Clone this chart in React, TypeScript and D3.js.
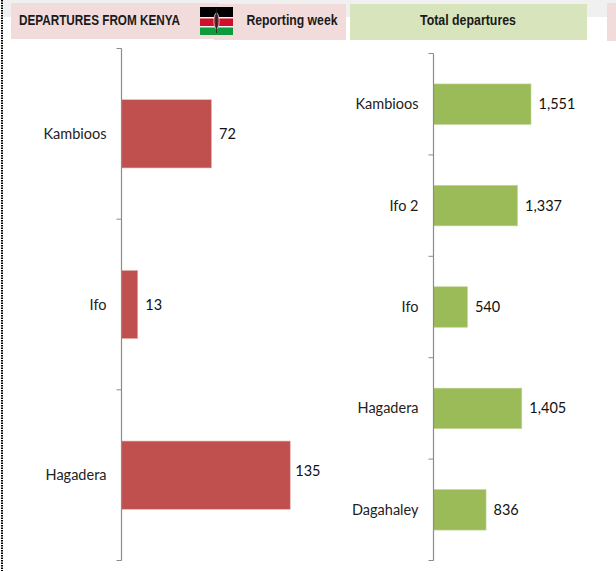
import React from "react";
import * as d3 from "d3";

const redCategories = ["Kambioos", "Ifo", "Hagadera"];
const redValues = [72, 13, 135];
const greenCategories = ["Kambioos", "Ifo 2", "Ifo", "Hagadera", "Dagahaley"];
const greenValues = [1551, 1337, 540, 1405, 836];
const headers = ["DEPARTURES FROM KENYA", "Reporting week", "Total departures"];

const labelFont = "Lato, 'Open Sans', sans-serif";
const headFont = "'Liberation Sans Narrow', 'Liberation Sans', sans-serif";

function Panel({ cats, vals, x0, pxMax, domainMax, top, bottom, fill, stroke, padding, nudge }: any) {
  const x = d3.scaleLinear().domain([0, domainMax]).range([x0, x0 + pxMax]);
  const y = d3.scaleBand<string>().domain(cats).range([top, bottom]).paddingInner(padding).paddingOuter(padding / 2);
  const step = y.step();
  const fmt = d3.format(",");
  const ticks = d3.range(cats.length + 1).map((i) => top + i * step);
  return (
    <g>
      {cats.map((c: string, i: number) => {
        const by = y(c)!;
        const n = nudge?.[c] ?? [0, 0];
        return (
          <g key={c}>
            <rect x={x(0)} y={by} width={x(vals[i]) - x(0)} height={y.bandwidth()} fill={fill} stroke={stroke} strokeWidth={0.6} />
            <text x={x0 - 15} y={by + y.bandwidth() / 2} dy="0.35em" textAnchor="end" fontFamily={labelFont} fontSize={14.5} fill="#222">{c}</text>
            <text x={x(vals[i]) + 7.5 + n[0]} y={by + y.bandwidth() / 2 + n[1]} dy="0.35em" fontFamily={labelFont} fontSize={14.5} fill="#111">{fmt(vals[i])}</text>
          </g>
        );
      })}
      <line x1={x0} x2={x0} y1={top} y2={bottom} stroke="#8c8c8c" strokeWidth={1.2} />
      {ticks.map((t: number) => (
        <line key={t} x1={x0 - 5} x2={x0} y1={t} y2={t} stroke="#8c8c8c" strokeWidth={1} />
      ))}
    </g>
  );
}

export default function App() {
  return (
    <svg width={616} height={571} style={{ position: "absolute", left: 0, top: 0, background: "#fff" }}>
      <rect x={3} y={0} width={613} height={17} fill="#f0f0f0" />
      <line x1={2} x2={2} y1={0} y2={571} stroke="#000" strokeWidth={2} strokeDasharray="1.5 1" />
      <rect x={11} y={3} width={207} height={36} fill="#f2dcdb" />
      <rect x={214} y={4} width={132} height={36} fill="#f2dcdb" />
      <rect x={350} y={4} width={237} height={36} fill="#d8e4bc" />
      <rect x={607} y={3} width={9} height={38} fill="#f2dcdb" />

      <rect x={200} y={7} width={33} height={10} fill="#000" />
      <rect x={200} y={17} width={33} height={1.5} fill="#f5f5f5" />
      <rect x={200} y={18.5} width={33} height={7.5} fill="#d0102a" />
      <rect x={200} y={26} width={33} height={1.5} fill="#f5f5f5" />
      <rect x={200} y={27.5} width={33} height={7.5} fill="#109a3c" />
      <ellipse cx={216.5} cy={21} rx={2.6} ry={8} fill="#8a1020" stroke="#eee" strokeWidth={0.7} />
      <line x1={216.5} x2={216.5} y1={9} y2={33} stroke="#222" strokeWidth={0.8} />

      <text x={19} y={20} dy="0.35em" fontFamily={headFont} fontWeight={700} fontSize={15} fill="#1a1a1a" textLength={161} lengthAdjust="spacingAndGlyphs">{headers[0]}</text>
      <text x={246.5} y={20} dy="0.35em" fontFamily={headFont} fontWeight={700} fontSize={15} fill="#1a1a1a" textLength={91} lengthAdjust="spacingAndGlyphs">{headers[1]}</text>
      <text x={420} y={20} dy="0.35em" fontFamily={headFont} fontWeight={700} fontSize={15} fill="#1a1a1a" textLength={96} lengthAdjust="spacingAndGlyphs">{headers[2]}</text>

      <Panel cats={redCategories} vals={redValues} x0={121.5} pxMax={168.75} domainMax={135} top={48.5} bottom={560.5} fill="#c0504d" stroke="#e6b9b8" padding={0.6} nudge={{ Hagadera: [-2.5, -4] }} />
      <Panel cats={greenCategories} vals={greenValues} x0={433.5} pxMax={97.5} domainMax={1551} top={53.5} bottom={560.5} fill="#9bbb59" stroke="#c4d79b" padding={0.6} />
    </svg>
  );
}
